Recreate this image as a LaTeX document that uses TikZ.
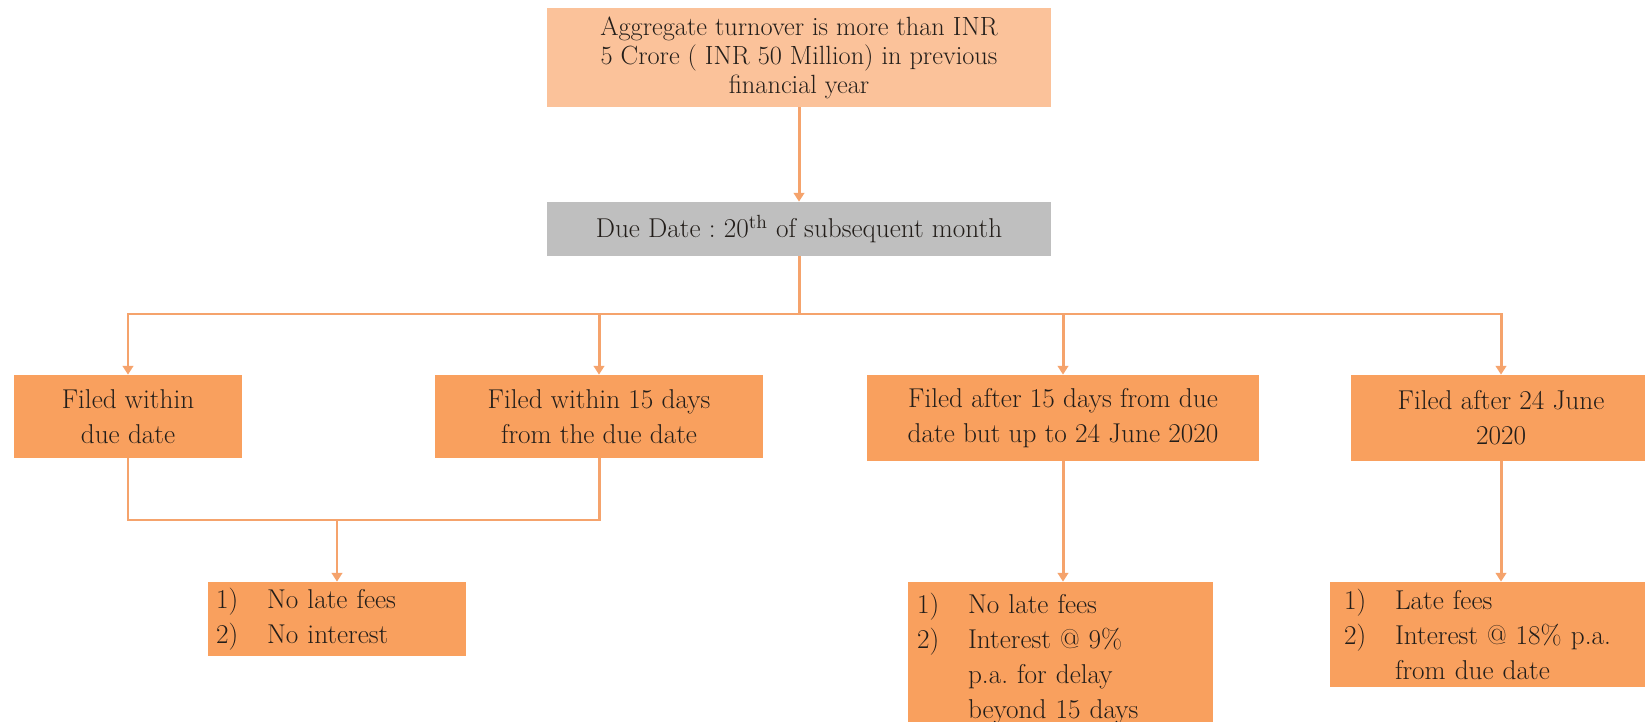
\documentclass[tikz,border=0pt]{standalone}
\usetikzlibrary{arrows.meta}
\definecolor{boxor}{HTML}{F9A05E}
\definecolor{topor}{HTML}{FBC29A}
\definecolor{duegray}{HTML}{BFBFBF}
\definecolor{lineor}{HTML}{F5A36C}
\definecolor{txt}{HTML}{231E1A}
\newcommand{\itm}[1]{\makebox[1.02cm][l]{#1}}
\newcommand{\cnt}{\hspace*{1.02cm}}
\frenchspacing
\begin{document}
\begin{tikzpicture}[x=0.02cm,y=-0.02cm,
  base/.style={rectangle, inner sep=0pt, text=txt, font=\fontsize{15.5}{20}\selectfont},
  topbox/.style={base, fill=topor, font=\fontsize{15}{16.5}\selectfont, align=center},
  duebox/.style={base, fill=duegray, align=center},
  filebox/.style={base, fill=boxor, align=center},
  listbox/.style={base, fill=boxor, align=left},
  conn/.style={draw=lineor, line width=1.7pt},
  arr/.style={conn, -{Triangle[width=6pt,length=5pt]}}]
\useasboundingbox (0,0) rectangle (1645,722);

\node[topbox, minimum width=10.08cm, minimum height=1.98cm] (top) at (799,57.5)
  {Aggregate turnover is more than INR\\5 Crore ( INR 50 Million) in previous\\financial year};
\node[duebox, minimum width=10.08cm, minimum height=1.08cm] (due) at (799,229)
  {Due Date : 20\textsuperscript{th} of subsequent month};

\node[filebox, minimum width=4.56cm, minimum height=1.66cm] (b1) at (128,416.5)
  {Filed within\\due date};
\node[filebox, minimum width=6.56cm, minimum height=1.66cm] (b2) at (599,416.5)
  {Filed within 15 days\\from the due date};
\node[filebox, minimum width=7.84cm, minimum height=1.72cm] (b3) at (1063,418)
  {Filed after 15 days from due\\date but up to 24 June 2020};
\node[filebox, minimum width=6.0cm, minimum height=1.72cm] (b4) at (1501,418)
  {Filed after 24 June\\2020};

\node[listbox, minimum width=5.16cm, minimum height=1.48cm, text width=4.84cm] (b5) at (337,619)
  {\itm{1)}No late fees\\\itm{2)}No interest};
\node[listbox, minimum width=6.1cm, minimum height=3.06cm, text width=5.74cm] (b6) at (1060.5,658.5)
  {\itm{1)}No late fees\\\itm{2)}Interest @ 9\%\\\cnt p.a. for delay\\\cnt beyond 15 days};
\node[listbox, minimum width=6.4cm, minimum height=2.1cm, text width=5.84cm] (b7) at (1490,634.5)
  {\itm{1)}Late fees\\\itm{2)}Interest @ 18\% p.a.\\\cnt from due date};

\coordinate (lvl) at (0,314);
\coordinate (br) at (due.south |- lvl);
\coordinate (lvm) at (0,520);
\coordinate (mg) at (b5.north |- lvm);

\draw[arr] (top.south) -- (due.north);
\draw[conn] (due.south) -- (br);
\draw[arr] (br) -| (b1.north);
\draw[arr] (br) -| (b2.north);
\draw[arr] (br) -| (b3.north);
\draw[arr] (br) -| (b4.north);
\draw[conn] (b1.south) |- (mg);
\draw[conn] (b2.south) |- (mg);
\draw[arr] (mg) -- (b5.north);
\draw[arr] (b3.south) -- (b3.south |- b6.north);
\draw[arr] (b4.south) -- (b4.south |- b7.north);
\end{tikzpicture}
\end{document}
